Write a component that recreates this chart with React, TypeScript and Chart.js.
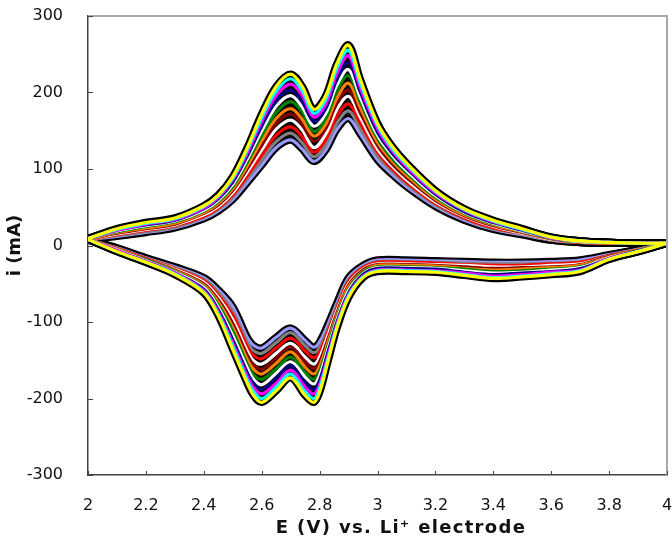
import React, { useEffect, useRef } from 'react';
import { Chart, registerables } from 'chart.js';

Chart.register(...registerables);

// Potential grids (V) for the anodic (2 -> 4 V) and cathodic (4 -> 2 V) sweeps
const anodicE = [2.0, 2.1, 2.2, 2.3, 2.4, 2.45, 2.5, 2.55, 2.6, 2.65, 2.7, 2.74, 2.78, 2.82, 2.86, 2.9, 2.94, 3.0, 3.05, 3.1, 3.2, 3.3, 3.4, 3.5, 3.6, 3.7, 3.8, 3.9, 4.0];
const cathodicE = [4.0, 3.9, 3.8, 3.7, 3.6, 3.5, 3.4, 3.3, 3.2, 3.1, 3.0, 2.95, 2.9, 2.86, 2.83, 2.8, 2.78, 2.75, 2.7, 2.65, 2.6, 2.57, 2.55, 2.5, 2.45, 2.4, 2.3, 2.2, 2.1, 2.0];

// Current (mA), anodic sweeps, cycle 1 (largest) ... cycle 12 (smallest)
const anodic01 = [9, 22, 30, 36, 52, 66, 90, 128, 172, 208, 224, 208, 178, 195, 238, 262, 218, 160, 130, 108, 72, 48, 33, 22, 11, 6, 4, 3, 3];
const anodic02 = [9, 21, 29, 35, 51, 65, 88, 125, 167, 202, 218, 202, 173, 190, 232, 255, 213, 157, 127, 106, 71, 47, 32, 21, 11, 6, 4, 3, 3];
const anodic03 = [9, 20, 28, 34, 49, 63, 86, 121, 162, 196, 211, 196, 168, 184, 225, 248, 207, 153, 124, 103, 69, 46, 31, 21, 10, 6, 4, 3, 3];
const anodic04 = [9, 20, 27, 33, 48, 61, 83, 117, 156, 189, 203, 188, 162, 178, 217, 239, 201, 148, 121, 101, 67, 44, 30, 20, 10, 6, 4, 3, 3];
const anodic05 = [9, 19, 26, 32, 46, 59, 80, 113, 150, 182, 196, 181, 156, 172, 210, 230, 194, 144, 118, 98, 65, 43, 29, 19, 10, 5, 4, 3, 3];
const anodic06 = [9, 18, 25, 31, 45, 57, 77, 109, 144, 174, 188, 174, 149, 165, 202, 222, 188, 140, 114, 95, 63, 42, 28, 19, 9, 5, 4, 3, 3];
const anodic07 = [8, 17, 23, 29, 43, 55, 74, 104, 137, 166, 179, 165, 143, 158, 193, 212, 181, 135, 111, 92, 61, 40, 27, 18, 9, 5, 3, 3, 3];
const anodic08 = [8, 16, 22, 28, 42, 53, 72, 100, 131, 159, 172, 158, 136, 152, 186, 203, 174, 131, 107, 89, 59, 39, 26, 17, 9, 5, 3, 3, 3];
const anodic09 = [8, 15, 21, 27, 40, 51, 69, 96, 125, 152, 164, 151, 128, 145, 178, 195, 168, 126, 104, 86, 57, 38, 25, 16, 8, 5, 3, 3, 3];
const anodic10 = [8, 14, 20, 26, 38, 49, 66, 91, 118, 144, 155, 142, 122, 138, 169, 185, 160, 122, 100, 83, 55, 36, 23, 16, 8, 4, 3, 3, 3];
const anodic11 = [8, 13, 18, 24, 37, 47, 63, 87, 112, 136, 147, 134, 116, 131, 160, 176, 153, 117, 97, 80, 53, 35, 22, 15, 7, 4, 3, 3, 3];
const anodic12 = [8, 12, 17, 23, 35, 45, 60, 82, 105, 128, 138, 126, 110, 124, 152, 166, 146, 112, 93, 77, 51, 33, 21, 14, 7, 4, 3, 3, 3];

// Current (mA), cathodic sweeps
const cathodic01 = [3, -8, -18, -34, -38, -41, -43, -39, -35, -34, -34, -42, -68, -108, -150, -192, -205, -196, -173, -190, -205, -195, -180, -136, -92, -62, -38, -22, -8, 8];
const cathodic02 = [3, -8, -18, -33, -37, -40, -42, -38, -34, -33, -33, -41, -66, -106, -147, -187, -200, -191, -168, -185, -200, -190, -176, -132, -90, -61, -37, -22, -8, 8];
const cathodic03 = [3, -8, -17, -32, -35, -38, -40, -36, -33, -32, -32, -40, -64, -103, -143, -182, -194, -185, -163, -180, -194, -185, -171, -128, -87, -59, -36, -21, -7, 8];
const cathodic04 = [3, -7, -17, -30, -34, -36, -38, -35, -31, -30, -30, -38, -62, -100, -138, -176, -188, -179, -157, -173, -188, -179, -166, -123, -84, -57, -36, -21, -7, 8];
const cathodic05 = [3, -7, -16, -29, -32, -35, -36, -33, -30, -29, -29, -37, -59, -97, -134, -170, -181, -172, -152, -167, -182, -174, -160, -118, -81, -55, -35, -20, -6, 8];
const cathodic06 = [3, -7, -16, -28, -31, -33, -34, -31, -29, -28, -28, -35, -57, -94, -130, -164, -175, -166, -146, -161, -175, -168, -155, -112, -78, -54, -34, -19, -6, 8];
const cathodic07 = [3, -6, -15, -26, -29, -31, -32, -30, -27, -26, -26, -34, -54, -91, -125, -158, -168, -159, -139, -154, -168, -161, -149, -107, -74, -52, -33, -19, -5, 8];
const cathodic08 = [3, -6, -14, -25, -28, -29, -30, -28, -26, -25, -25, -32, -52, -88, -121, -152, -161, -152, -133, -147, -162, -155, -143, -102, -71, -50, -32, -18, -5, 8];
const cathodic09 = [3, -6, -14, -24, -26, -28, -28, -26, -25, -24, -24, -31, -50, -85, -116, -146, -155, -146, -128, -141, -155, -150, -138, -97, -68, -48, -31, -18, -5, 8];
const cathodic10 = [3, -6, -13, -22, -24, -26, -26, -25, -23, -22, -22, -29, -47, -82, -112, -139, -147, -138, -121, -134, -148, -143, -132, -91, -65, -46, -30, -17, -4, 8];
const cathodic11 = [3, -5, -13, -21, -23, -24, -24, -23, -22, -21, -21, -28, -45, -78, -107, -133, -140, -131, -114, -127, -141, -137, -126, -86, -61, -44, -29, -17, -4, 8];
const cathodic12 = [3, -5, -12, -19, -21, -22, -22, -21, -20, -19, -19, -26, -42, -75, -102, -126, -133, -124, -108, -120, -134, -130, -120, -80, -58, -42, -28, -16, -3, 8];

const anodicCycles = [anodic01, anodic02, anodic03, anodic04, anodic05, anodic06, anodic07, anodic08, anodic09, anodic10, anodic11, anodic12];
const cathodicCycles = [cathodic01, cathodic02, cathodic03, cathodic04, cathodic05, cathodic06, cathodic07, cathodic08, cathodic09, cathodic10, cathodic11, cathodic12];

const cycleColors = ['#FFFF00', '#00FFFF', '#FF00FF', '#000080', '#FFFFFF', '#008000', '#FF8000', '#800000', '#FFFFFF', '#FF0000', '#808080', '#9999FF'];

const xTicks = [2, 2.2, 2.4, 2.6, 2.8, 3, 3.2, 3.4, 3.6, 3.8, 4];
const yTicks = [-300, -200, -100, 0, 100, 200, 300];

const xTitle = 'E (V) vs. Li\u207A electrode';
const yTitle = 'i (mA)';

const framePlugin = {
  id: 'frameTicks',
  afterDraw(chart: any) {
    const { ctx, chartArea, scales } = chart;
    const { left, right, top, bottom } = chartArea;
    ctx.save();
    ctx.strokeStyle = '#a8a8a8';
    ctx.lineWidth = 2;
    ctx.beginPath();
    ctx.moveTo(left, top);
    ctx.lineTo(right, top);
    ctx.lineTo(right, bottom);
    ctx.stroke();
    ctx.strokeStyle = '#444';
    ctx.lineWidth = 1;
    ctx.beginPath();
    scales.y.ticks.forEach((t: any) => {
      const py = Math.round(scales.y.getPixelForValue(t.value)) + 0.5;
      ctx.moveTo(left, py);
      ctx.lineTo(left + 5, py);
    });
    scales.x.ticks.forEach((t: any) => {
      const px = Math.round(scales.x.getPixelForValue(t.value)) + 0.5;
      ctx.moveTo(px, bottom);
      ctx.lineTo(px, bottom - 4);
    });
    ctx.stroke();
    // x-axis title (drawn here to allow the wide letter spacing of the original)
    ctx.fillStyle = '#111';
    ctx.font = 'bold 18px "DejaVu Sans"';
    try { (ctx as any).letterSpacing = '1.3px'; } catch (e) { /* ignore */ }
    ctx.textAlign = 'center';
    ctx.textBaseline = 'alphabetic';
    ctx.fillText(xTitle, 401, 533);
    ctx.restore();
  },
};

export default function App() {
  const ref = useRef<HTMLCanvasElement | null>(null);

  useEffect(() => {
    document.body.style.margin = '0';
    const canvas = ref.current;
    if (!canvas) return;

    const underlays: any[] = [];
    const lines: any[] = [];
    anodicCycles.forEach((ys, k) => {
      const makeA = () => anodicE.map((x, i) => ({ x, y: ys[i] }));
      const makeC = () => cathodicE.map((x, i) => ({ x, y: cathodicCycles[k][i] }));
      [makeA, makeC].forEach((make) => {
        underlays.push({
          data: make(),
          borderColor: '#000000',
          borderWidth: 7.5,
          order: 2,
        });
        lines.push({
          data: make(),
          borderColor: cycleColors[k],
          borderWidth: 3.2,
          order: 1,
        });
      });
    });

    const noPad = (s: any) => {
      s.paddingLeft = 0;
      s.paddingRight = 0;
      s.paddingTop = 0;
      s.paddingBottom = 0;
    };

    const chart = new Chart(canvas, {
      type: 'scatter',
      data: { datasets: [...lines, ...underlays] },
      plugins: [framePlugin],
      options: {
        animation: false,
        responsive: false,
        devicePixelRatio: 1,
        showLine: true,
        elements: {
          point: { radius: 0, hoverRadius: 0 },
          line: { tension: 0.35, borderCapStyle: 'round', borderJoinStyle: 'round' },
        },
        layout: { padding: { top: 16, right: 5, left: 0, bottom: 0 }, autoPadding: false },
        plugins: { legend: { display: false }, tooltip: { enabled: false } },
        scales: {
          x: {
            type: 'linear',
            min: 2,
            max: 4,
            afterBuildTicks: (s: any) => { s.ticks = xTicks.map((v) => ({ value: v })); },
            afterFit: (s: any) => { s.height = 64; noPad(s); },
            grid: { display: false },
            border: { display: true, color: '#444', width: 1.5 },
            ticks: {
              padding: 13,
              color: '#111',
              maxRotation: 0,
              font: { family: 'DejaVu Sans', size: 16 },
              callback: (v: any) => String(Number(Number(v).toFixed(1))),
            },
            title: { display: false },
          },
          y: {
            type: 'linear',
            min: -300,
            max: 300,
            afterBuildTicks: (s: any) => { s.ticks = yTicks.map((v) => ({ value: v })); },
            afterFit: (s: any) => { s.width = 88; noPad(s); },
            grid: { display: false },
            border: { display: true, color: '#444', width: 1.5 },
            ticks: {
              padding: 17,
              color: '#111',
              font: { family: 'DejaVu Sans', size: 16 },
            },
            title: {
              display: true,
              text: yTitle,
              color: '#111',
              font: { family: 'DejaVu Sans', size: 18, weight: 'bold' },
              padding: { top: 5, bottom: 4 },
            },
          },
        },
      },
    } as any);

    return () => chart.destroy();
  }, []);

  return (
    <div style={{ width: 672, height: 539, position: 'relative', background: '#fff' }}>
      <canvas ref={ref} width={672} height={539} style={{ display: 'block' }} />
    </div>
  );
}
